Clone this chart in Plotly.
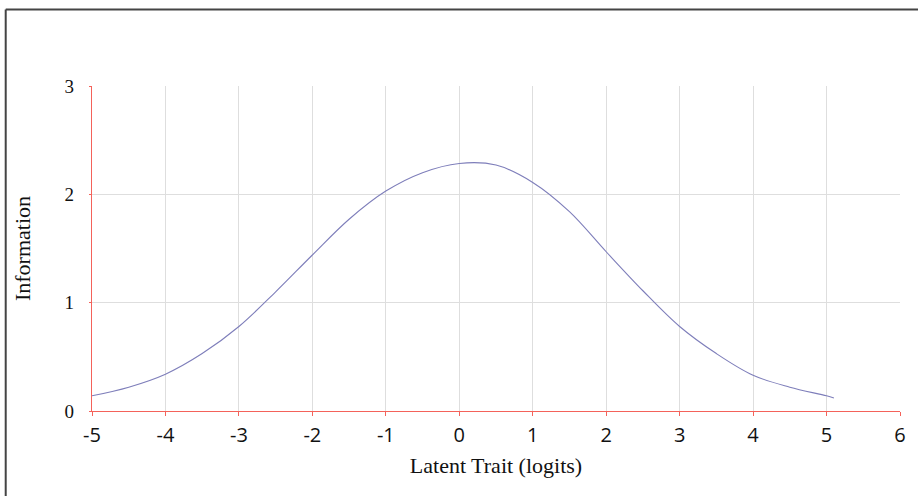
import plotly.graph_objects as go

theta = [-5, -4.5, -4, -3.5, -3, -2.5, -2, -1.5, -1, -0.5, 0, 0.5, 1, 1.5, 2, 2.5, 3, 3.5, 4, 4.5, 5, 5.1]
information = [0.14, 0.22, 0.34, 0.53, 0.78, 1.10, 1.44, 1.77, 2.03, 2.20, 2.285, 2.27, 2.11, 1.84, 1.47, 1.11, 0.78, 0.53, 0.33, 0.22, 0.14, 0.12]

x_ticks = [-5, -4, -3, -2, -1, 0, 1, 2, 3, 4, 5, 6]
y_ticks = [0, 1, 2, 3]

W, H = 918, 496
L, R, T, B = 92, 16, 86, 85
pw, ph = W - L - R, H - T - B

def px_x(p):
    return (p - L) / pw

def px_y(p):
    return (H - B - p) / ph

fig = go.Figure()
fig.add_trace(go.Scatter(
    x=theta, y=information, mode="lines",
    line=dict(color="#7e7eba", width=1.1, shape="spline", smoothing=1.0),
    hoverinfo="skip", showlegend=False,
))

red = "#f4625a"
grid = "#dedede"
fig.update_layout(
    width=W, height=H,
    margin=dict(l=L, r=R, t=T, b=B, pad=0),
    paper_bgcolor="white", plot_bgcolor="white",
    showlegend=False,
    xaxis=dict(
        range=[-5, 6], tickvals=x_ticks, ticktext=[str(v) for v in x_ticks],
        showgrid=True, gridcolor=grid, gridwidth=1,
        zeroline=False, showline=True, linecolor=red, linewidth=1.4,
        ticks="outside", ticklen=4, tickcolor=red, tickwidth=1,
        tickfont=dict(family="Open Sans", size=20, color="#111"),
        ticklabelstandoff=2,
        title=dict(text="Latent Trait (logits)", font=dict(family="Liberation Serif", size=22, color="#111"), standoff=10),
        fixedrange=True,
    ),
    yaxis=dict(
        range=[0, 3], tickvals=y_ticks, ticktext=[str(v) for v in y_ticks],
        showgrid=True, gridcolor=grid, gridwidth=1,
        zeroline=False, showline=True, linecolor=red, linewidth=1.4,
        ticks="outside", ticklen=2, tickcolor=red, tickwidth=1,
        tickfont=dict(family="Liberation Serif", size=19, color="#111"),
        ticklabelstandoff=11,
        title=dict(text="Information", font=dict(family="Liberation Serif", size=22, color="#111"), standoff=27),
        fixedrange=True,
    ),
    shapes=[
        dict(type="line", xref="paper", yref="paper", x0=px_x(5.5), x1=px_x(930), y0=px_y(9.5), y1=px_y(9.5),
             line=dict(color="#444444", width=2)),
        dict(type="line", xref="paper", yref="paper", x0=px_x(5.5), x1=px_x(5.5), y0=px_y(9.5), y1=px_y(510),
             line=dict(color="#444444", width=2)),
    ],
)

fig.write_html("out.html", config={"displayModeBar": False},
               post_script="document.body.style.margin='0';document.body.style.overflow='hidden';")
